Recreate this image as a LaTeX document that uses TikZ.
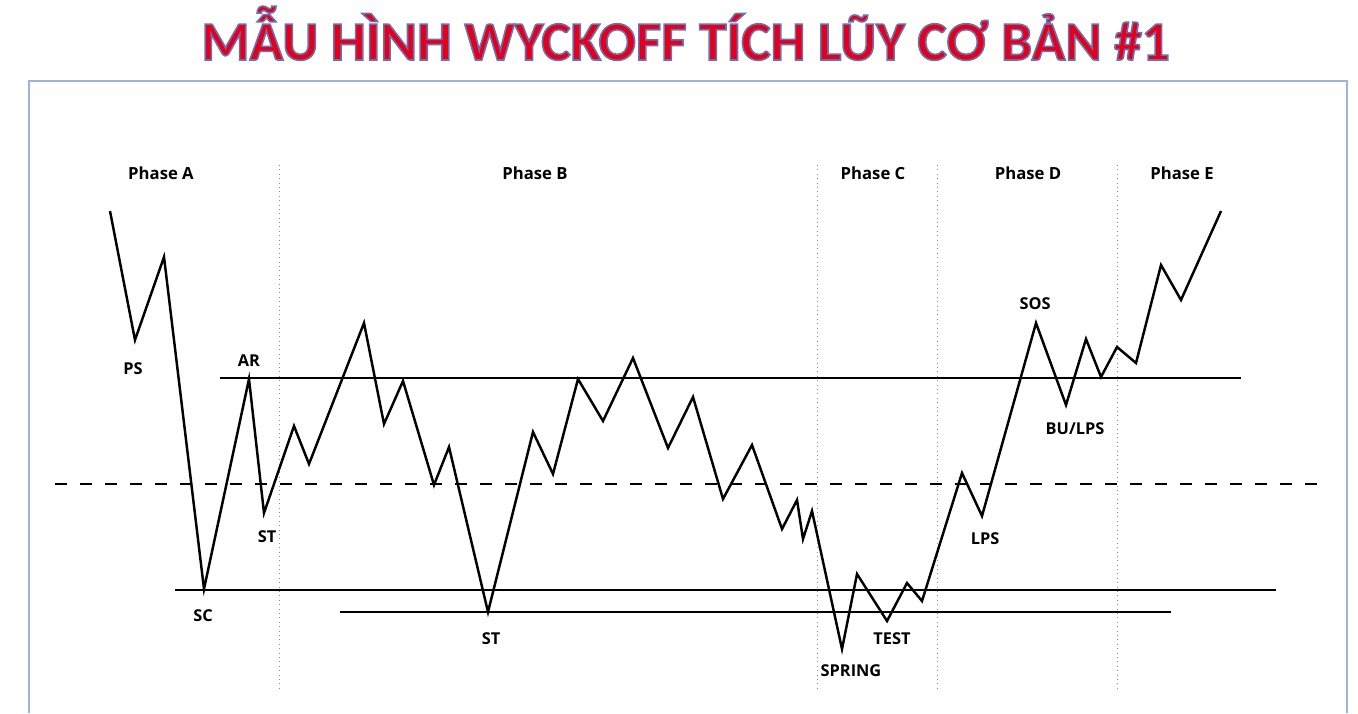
\documentclass[tikz,border=0pt]{standalone}
\usepackage{fontspec}
\setmainfont{Open Sans}
\newfontfamily\titlefont{Carlito}
\definecolor{titlered}{HTML}{E3001B}
\definecolor{framecol}{HTML}{9DB4D8}
% red letters with a thin blue-grey edge
\newcommand{\edgedtext}[1]{\special{pdf:literal direct 2 Tr 0.9 w 0.42 0.44 0.71 RG}#1\special{pdf:literal direct 0 Tr}}

\begin{document}
\begin{tikzpicture}[x=0.02cm,y=-0.02cm,
  price/.style={line width=1.4pt, line join=miter},
  level/.style={line width=1.1pt},
  midline/.style={line width=1.1pt, dash pattern=on 0.24cm off 0.26cm},
  phasesep/.style={black!45, dotted, line width=0.5pt},
  phaselabel/.style={font=\bfseries\fontsize{9.5}{11}\selectfont},
  pointlabel/.style={font=\bfseries\fontsize{9.3}{11}\selectfont},
  titletext/.style={anchor=base, inner sep=0pt, text=titlered, font=\titlefont\bfseries\fontsize{31.5}{34}\selectfont}]
\useasboundingbox (0,0) rectangle (1358,713);

%title
\node[titletext] (title) at (685.5,60) {\edgedtext{MẪU HÌNH WYCKOFF TÍCH LŨY CƠ BẢN \#1}};

%frame
\draw[framecol, line width=0.8pt] (29,713)--(29,81)--(1347,81)--(1347,713);

%phase separators
\foreach \x in {279,817,937,1117}
  \draw[phasesep] (\x,165)--(\x,690);

%levels
\coordinate (AR1) at (220,378);  \coordinate (AR2) at (1241,378);
\coordinate (M1) at (55,484);    \coordinate (M2) at (1317,484);
\coordinate (SC1) at (175,590);  \coordinate (SC2) at (1276,590);
\coordinate (ST1) at (340,612);  \coordinate (ST2) at (1171,612);
\draw[level] (AR1)--(AR2);   %resistance
\draw[midline] (M1)--(M2);   %middle
\draw[level] (SC1)--(SC2);   %support
\draw[level] (ST1)--(ST2);   %lower support

%price points
\coordinate (S) at (110,211);  \coordinate (PS) at (135,340); \coordinate (a1) at (164,257);
\coordinate (SC) at (204,589); \coordinate (AR) at (249,379); \coordinate (STa) at (264,513);
\coordinate (b1) at (294,426); \coordinate (b2) at (309,464); \coordinate (b3) at (364,323);
\coordinate (b4) at (384,424); \coordinate (b5) at (403,381); \coordinate (b6) at (434,485);
\coordinate (b7) at (449,447); \coordinate (STb) at (488,612); \coordinate (b8) at (533,432);
\coordinate (b9) at (553,474); \coordinate (b10) at (578,379); \coordinate (b11) at (603,421);
\coordinate (b12) at (633,358); \coordinate (b13) at (668,448); \coordinate (b14) at (693,397);
\coordinate (b15) at (723,499); \coordinate (b16) at (752,445); \coordinate (b17) at (782,529);
\coordinate (b18) at (797,500); \coordinate (b19) at (803,539); \coordinate (b20) at (812,511);
\coordinate (SPR) at (842,649); \coordinate (c1) at (857,574); \coordinate (TEST) at (887,621);
\coordinate (c2) at (907,583); \coordinate (c3) at (922,601); \coordinate (d1) at (962,473);
\coordinate (LPS) at (982,516); \coordinate (SOS) at (1036,323); \coordinate (BU) at (1066,405);
\coordinate (d2) at (1086,339); \coordinate (d3) at (1101,377); \coordinate (e1) at (1117,347);
\coordinate (e2) at (1136,363); \coordinate (e3) at (1161,265); \coordinate (e4) at (1181,300);
\coordinate (E) at (1221,211);

%price path
\draw[price] (S)--(PS)--(a1)--(SC)--(AR)--(STa)--(b1)--(b2)--(b3)--(b4)--(b5)--(b6)--(b7)
  --(STb)--(b8)--(b9)--(b10)--(b11)--(b12)--(b13)--(b14)--(b15)--(b16)--(b17)--(b18)--(b19)
  --(b20)--(SPR)--(c1)--(TEST)--(c2)--(c3)--(d1)--(LPS)--(SOS)--(BU)--(d2)--(d3)--(e1)--(e2)
  --(e3)--(e4)--(E);

%phase labels
\node[phaselabel] (phA) at (161,173) {Phase A};
\node[phaselabel] (phB) at (535,173) {Phase B};
\node[phaselabel] (phC) at (873,173) {Phase C};
\node[phaselabel] (phD) at (1028,173) {Phase D};
\node[phaselabel] (phE) at (1182,173) {Phase E};

%point labels
\node[pointlabel] (lPS) at (133,369) {PS};
\node[pointlabel] (lAR) at (249,361) {AR};
\node[pointlabel] (lSTa) at (267,537) {ST};
\node[pointlabel] (lSC) at (203,616) {SC};
\node[pointlabel] (lSTb) at (491,639) {ST};
\node[pointlabel] (lSPR) at (851,671) {SPRING};
\node[pointlabel] (lTEST) at (892,639) {TEST};
\node[pointlabel] (lLPS) at (985,539) {LPS};
\node[pointlabel] (lSOS) at (1035,304) {SOS};
\node[pointlabel] (lBU) at (1075,429) {BU/LPS};

\end{tikzpicture}
\end{document}
